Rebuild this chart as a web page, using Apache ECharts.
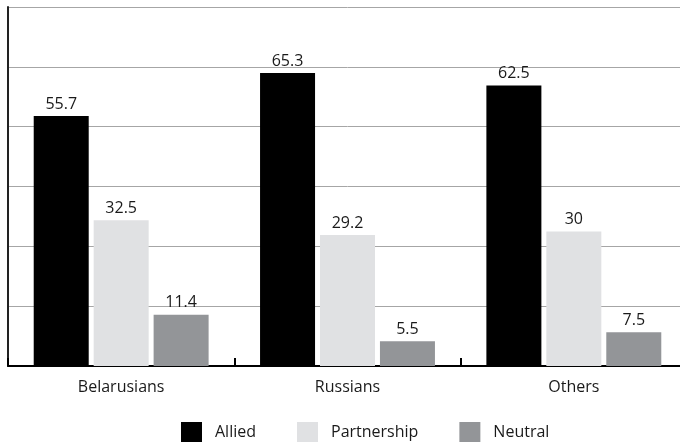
<!DOCTYPE html>
<html>
<head>
<meta charset="utf-8">
<script src="https://cdn.jsdelivr.net/npm/echarts@6/dist/echarts.min.js"></script>
<style>
  html, body { margin: 0; padding: 0; background: #fff; overflow: hidden; }
  /* plot runs slightly past the right edge of the window */
  #chart { width: 690px; height: 444px; }
</style>
</head>
<body>
<div id="chart"></div>
<script>
// Attitude toward relations, by group (percent)
const groups = ['Belarusians', 'Russians', 'Others'];
const allied = [55.7, 65.3, 62.5];
const partnership = [32.5, 29.2, 30];
const neutral = [11.4, 5.5, 7.5];

const FONT = '"Open Sans", "Noto Sans", sans-serif';
const TEXT = '#1a1a1a';
const labelStyle = {
  show: true,
  position: 'top',
  distance: 4,
  color: TEXT,
  fontFamily: FONT,
  fontSize: 16
};

function barSeries(name, data, color) {
  return {
    name: name,
    type: 'bar',
    data: data,
    barWidth: 55,
    barGap: '9%',
    itemStyle: { color: color },
    label: labelStyle
  };
}

const chart = echarts.init(document.getElementById('chart'), null, { renderer: 'canvas' });
chart.setOption({
  animation: false,
  backgroundColor: '#ffffff',
  textStyle: { fontFamily: FONT },
  grid: { left: 8, width: 679, top: 7, height: 359, containLabel: false },
  legend: {
    top: 417,
    left: 176,
    itemWidth: 21,
    itemHeight: 20,
    itemGap: 41,
    icon: 'rect',
    textStyle: { fontFamily: FONT, fontSize: 16, color: TEXT, padding: [0, 0, 0, 8] },
    data: ['Allied', 'Partnership', 'Neutral']
  },
  xAxis: {
    type: 'category',
    data: groups,
    boundaryGap: true,
    axisLine: { lineStyle: { color: '#000', width: 2 } },
    axisTick: { show: true, inside: true, length: 8, lineStyle: { color: '#000', width: 2 } },
    axisLabel: { fontFamily: FONT, fontSize: 16, color: TEXT, margin: 13 }
  },
  yAxis: {
    type: 'value',
    min: 0,
    max: 80,
    interval: 80 / 6,
    axisLine: { show: true, lineStyle: { color: '#222', width: 2 } },
    axisTick: { show: false },
    axisLabel: { show: false },
    splitLine: { lineStyle: { color: '#a6a6a6', width: 1 } }
  },
  series: [
    barSeries('Allied', allied, '#000000'),
    barSeries('Partnership', partnership, '#e0e1e3'),
    barSeries('Neutral', neutral, '#939598')
  ]
});
</script>
</body>
</html>
